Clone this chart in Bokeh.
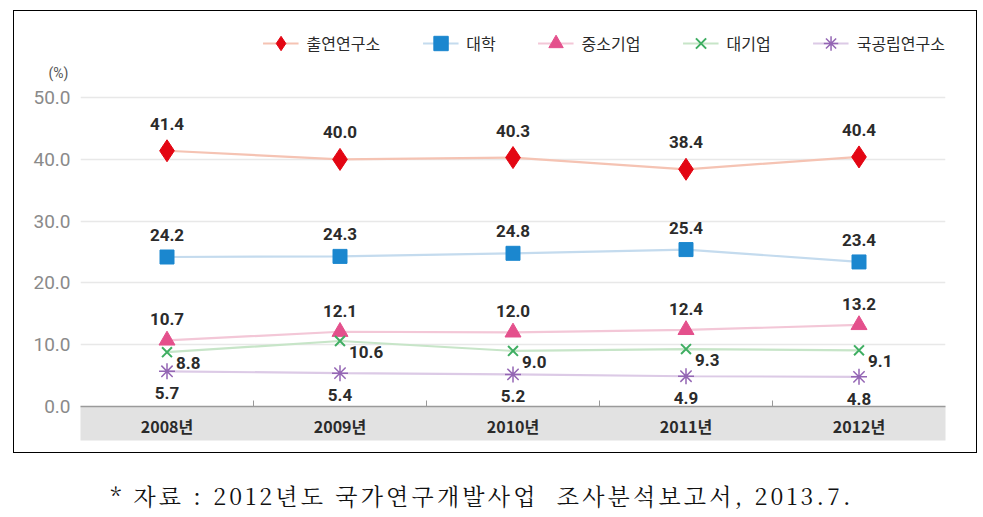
from bokeh.plotting import figure
from bokeh.models import (Range1d, FixedTicker, NumeralTickFormatter, Legend, LegendItem, Div,
                          LinearAxis)
from bokeh.layouts import column
from bokeh.core.properties import value
from bokeh.embed import file_html
from bokeh.resources import INLINE

years = ["2008년", "2009년", "2010년", "2011년", "2012년"]
y_ticks = [0, 10, 20, 30, 40, 50]
series_names = ["출연연구소", "대학", "중소기업", "대기업", "국공립연구소"]
gri = [41.4, 40.0, 40.3, 38.4, 40.4]
univ = [24.2, 24.3, 24.8, 25.4, 23.4]
sme = [10.7, 12.1, 12.0, 12.4, 13.2]
large = [8.8, 10.6, 9.0, 9.3, 9.1]
natl = [5.7, 5.4, 5.2, 4.9, 4.8]
unit_label = "(%)"
unit_tick = 54
caption = "* 자료 : 2012년도 국가연구개발사업  조사분석보고서, 2013.7."

xs = list(range(len(years)))

p = figure(width=964, height=443, x_range=Range1d(-0.5, 4.5), y_range=Range1d(0, 62.0),
           output_backend="svg", toolbar_location=None,
           min_border_left=67, min_border_right=32, min_border_top=13, min_border_bottom=47)
p.margin = (10, 0, 0, 13)
p.styles = {"outline": "1.5px solid #000", "outline-offset": "-1.5px"}
p.outline_line_color = None
p.background_fill_color = None
p.border_fill_color = None

# axes
p.xaxis.ticker = FixedTicker(ticks=xs, minor_ticks=[0.5, 1.5, 2.5, 3.5])
p.xaxis.major_label_overrides = {i: y for i, y in enumerate(years)}
p.xaxis.axis_line_color = "#9a9a9a"
p.xaxis.axis_line_width = 1.5
p.xaxis.major_tick_line_color = None
p.xaxis.major_tick_out = 0
p.xaxis.major_tick_in = 0
p.xaxis.minor_tick_line_color = "#9a9a9a"
p.xaxis.minor_tick_in = 6
p.xaxis.minor_tick_out = 0
p.xaxis.major_label_standoff = 7
p.xaxis.major_label_text_font = "Noto Sans CJK KR"
p.xaxis.major_label_text_font_style = "bold"
p.xaxis.major_label_text_font_size = "16px"
p.xaxis.major_label_text_color = "#2a2a2a"
p.xaxis.background_fill_color = "#e2e2e2"

p.yaxis.ticker = FixedTicker(ticks=y_ticks)
p.yaxis.formatter = NumeralTickFormatter(format="0.0")
p.yaxis.axis_line_color = None
p.yaxis.major_tick_line_color = None
p.yaxis.major_tick_out = 0
p.yaxis.minor_tick_line_color = None
p.yaxis.major_label_standoff = 10
p.yaxis.major_label_text_font = "Roboto"
p.yaxis.major_label_text_font_size = "19px"
p.yaxis.major_label_text_color = "#8a8a8a"

# unit label "(%)" as a second, tick-only left axis
ua = LinearAxis(ticker=FixedTicker(ticks=[unit_tick]),
                major_label_overrides={unit_tick: unit_label},
                axis_line_color=None, major_tick_line_color=None, minor_tick_line_color=None,
                major_tick_out=0, major_tick_in=0, minor_tick_out=0, minor_tick_in=0,
                major_label_standoff=-38, major_label_text_font="Roboto",
                major_label_text_font_size="14px", major_label_text_color="#555555")
p.add_layout(ua, "left")

p.xgrid.grid_line_color = None
p.ygrid.ticker = FixedTicker(ticks=y_ticks)
p.ygrid.grid_line_color = "#e8e8e8"
p.ygrid.grid_line_width = 1.5

specs = [
    (gri, "diamond", 22, "#e30613", "#f5c3b3", 1, "center", 0, -27),
    (univ, "square", 14, "#1b87cf", "#c4dbee", 1, "center", 0, -22),
    (sme, "triangle", 16, "#e4508c", "#f3c7d7", 1, "center", 0, -21),
    (large, "x", 14, "#3fae62", "#c7e5c8", 2, "left", 9, 11),
    (natl, "asterisk", 16, "#9466b4", "#dccae6", 1.5, "center", 0, 22),
]

items = []
for (vals, mk, sz, col, lcol, lw, align, xo, yo), name in zip(specs, series_names):
    ln = p.line(xs, vals, line_color=lcol, line_width=2.2)
    if mk in ("x", "asterisk"):
        sc = p.scatter(xs, vals, marker=mk, size=sz, line_color=col, line_width=lw)
    else:
        sc = p.scatter(xs, vals, marker=mk, size=sz, fill_color=col, line_color=col)
    p.text(xs, vals, text=[f"{v:.1f}" for v in vals], x_offset=xo, y_offset=yo,
           text_align=align, text_baseline="middle", text_font=value("Roboto"),
           text_font_style="bold", text_font_size="17px", text_color="#2b2b2b")
    items.append(LegendItem(label=name, renderers=[ln, sc]))

legend = Legend(items=items, location="top_right", orientation="horizontal",
                border_line_color=None, background_fill_alpha=0,
                label_text_font="Noto Sans CJK KR", label_text_font_size="16px",
                label_text_color="#2a2a2a", glyph_width=36, glyph_height=40,
                label_standoff=8, spacing=42, padding=0, margin=0)
p.add_layout(legend)

div = Div(text=caption, width=954, height=54,
          styles={"text-align": "center", "font-family": "'Noto Serif CJK KR', 'Noto Sans CJK KR'",
                  "font-size": "23px", "letter-spacing": "3.2px", "white-space": "pre",
                  "color": "#111", "padding-top": "22px", "width": "954px"})

layout = column(p, div)
open("out.html", "w").write(file_html(layout, INLINE))
